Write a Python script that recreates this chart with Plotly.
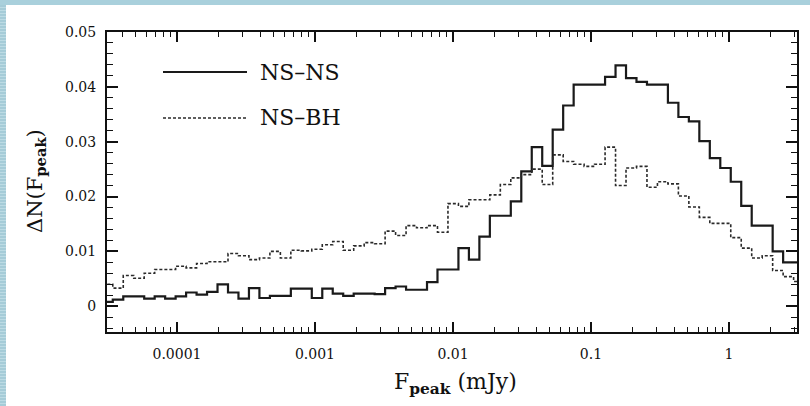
import numpy as np
import plotly.graph_objects as go

# ---------------- data ----------------
# histogram bins in log10(F_peak / mJy)
log_edge_start = -4.541
bin_dex = 0.0759

ns_ns = [0.0008, 0.0012, 0.0018, 0.0018, 0.0014, 0.0018, 0.0014, 0.0018, 0.0025, 0.0021,
         0.0026, 0.0040, 0.0025, 0.0014, 0.0033, 0.0015, 0.0019, 0.0019, 0.0032, 0.0032,
         0.0015, 0.0032, 0.0023, 0.0019, 0.0023, 0.0023, 0.0022, 0.0033, 0.0036, 0.0030,
         0.0030, 0.0044, 0.0067, 0.0067, 0.0106, 0.0085, 0.0127, 0.0165, 0.0165, 0.0191,
         0.0246, 0.0290, 0.0256, 0.0322, 0.0366, 0.0404, 0.0404, 0.0404, 0.0418, 0.0439,
         0.0416, 0.0409, 0.0404, 0.0404, 0.0371, 0.0345, 0.0337, 0.0301, 0.0270, 0.0252,
         0.0227, 0.0183, 0.0147, 0.0147, 0.0100, 0.0080, 0.0080]

ns_bh = [0.0040, 0.0033, 0.0056, 0.0051, 0.0060, 0.0067, 0.0067, 0.0073, 0.0070, 0.0078,
         0.0081, 0.0081, 0.0096, 0.0092, 0.0085, 0.0088, 0.0100, 0.0088, 0.0102, 0.0101,
         0.0104, 0.0112, 0.0118, 0.0102, 0.0110, 0.0116, 0.0114, 0.0137, 0.0129, 0.0147,
         0.0143, 0.0147, 0.0135, 0.0187, 0.0182, 0.0194, 0.0194, 0.0203, 0.0222, 0.0234,
         0.0240, 0.0250, 0.0222, 0.0276, 0.0264, 0.0259, 0.0255, 0.0259, 0.0290, 0.0220,
         0.0252, 0.0255, 0.0217, 0.0227, 0.0223, 0.0201, 0.0181, 0.0162, 0.0151, 0.0151,
         0.0125, 0.0106, 0.0088, 0.0092, 0.0065, 0.0054, 0.0045]

series_names = ["NS–NS", "NS–BH"]
x_tick_vals = [1e-4, 1e-3, 1e-2, 1e-1, 1]
x_tick_text = ["0.0001", "0.001", "0.01", "0.1", "1"]
y_tick_vals = [0, 0.01, 0.02, 0.03, 0.04, 0.05]
y_tick_text = ["0", "0.01", "0.02", "0.03", "0.04", "0.05"]

# ---------------- figure ----------------
n_bins = len(ns_ns)
edges = 10 ** (log_edge_start + bin_dex * np.arange(n_bins + 1))


def step(vals):
    return list(vals) + [vals[-1]]


W, H = 810, 406
L, R, T, B = 107, 13, 32, 74
pw, ph = W - L - R, H - T - B


def px(xp):
    return (xp - L) / pw


def py(yp):
    return (H - B - yp) / ph


fig = go.Figure()
fig.add_trace(go.Scatter(x=edges, y=step(ns_ns), mode="lines", line_shape="hv",
                         line=dict(color="#1a1a1a", width=2.2), name=series_names[0],
                         showlegend=False))
fig.add_trace(go.Scatter(x=edges, y=step(ns_bh), mode="lines", line_shape="hv",
                         line=dict(color="#2a2a2a", width=1.6, dash="3px,2px"),
                         name=series_names[1], showlegend=False))

font_family = "DejaVu Serif"
minor_vals = [m * 10.0 ** d for d in range(-5, 1) for m in range(2, 10)]

fig.update_xaxes(type="log", range=[-4.507, 0.493],
                 tickmode="array", tickvals=x_tick_vals, ticktext=x_tick_text,
                 ticks="inside", ticklen=10, tickwidth=1.5, tickcolor="#111",
                 minor=dict(ticks="inside", ticklen=5, tickwidth=1.2, tickcolor="#111",
                            tickmode="array", tickvals=minor_vals, showgrid=False),
                 showline=True, linecolor="#111", linewidth=2, mirror="ticks",
                 showgrid=False, zeroline=False, ticklabelstandoff=8,
                 tickfont=dict(family=font_family, size=14, color="#111"))
fig.update_yaxes(range=[-0.0047, 0.05],
                 tickmode="array", tickvals=y_tick_vals, ticktext=y_tick_text,
                 ticks="inside", ticklen=11, tickwidth=1.5, tickcolor="#111",
                 minor=dict(ticks="inside", ticklen=6, tickwidth=1.2, tickcolor="#111",
                            dtick=0.002, showgrid=False),
                 showline=True, linecolor="#111", linewidth=2, mirror="ticks",
                 showgrid=False, zeroline=False, ticklabelstandoff=6,
                 tickfont=dict(family=font_family, size=14, color="#111"))

shapes = []
# decorative striped border (left and top)
shapes.append(dict(type="rect", xref="paper", yref="paper", x0=px(0), x1=px(6),
                   y0=py(H), y1=py(0), fillcolor="#bcdbe4", line=dict(width=0), layer="below"))
shapes.append(dict(type="rect", xref="paper", yref="paper", x0=px(0), x1=px(W),
                   y0=py(5), y1=py(0), fillcolor="#a9d0dc", line=dict(width=0), layer="below"))
for yy in range(6, H, 3):
    shapes.append(dict(type="line", xref="paper", yref="paper", x0=px(0), x1=px(6),
                       y0=py(yy), y1=py(yy), line=dict(color="#8fbccb", width=1), layer="below"))

# legend samples
shapes.append(dict(type="line", xref="paper", yref="paper", x0=px(163), x1=px(247),
                   y0=py(72), y1=py(72), line=dict(color="#1a1a1a", width=2.2)))
shapes.append(dict(type="line", xref="paper", yref="paper", x0=px(163), x1=px(247),
                   y0=py(118), y1=py(118), line=dict(color="#2a2a2a", width=1.6, dash="3px,2px")))

annotations = [
    dict(text=series_names[0], xref="paper", yref="paper", x=px(258), y=py(72),
         xanchor="left", yanchor="middle", showarrow=False,
         font=dict(family=font_family, size=22, color="#111")),
    dict(text=series_names[1], xref="paper", yref="paper", x=px(258), y=py(118),
         xanchor="left", yanchor="middle", showarrow=False,
         font=dict(family=font_family, size=22, color="#111")),
    dict(text="F<sub><b>peak</b></sub> (mJy)", xref="paper", yref="paper",
         x=px(455), y=py(383), xanchor="center", yanchor="middle", showarrow=False,
         font=dict(family=font_family, size=22, color="#111")),
    dict(text="ΔN(F<sub><b>peak</b></sub>)", xref="paper", yref="paper",
         x=px(36), y=py(181), xanchor="center", yanchor="middle", showarrow=False,
         textangle=-90, font=dict(family=font_family, size=21, color="#111")),
]

fig.update_layout(width=W, height=H, margin=dict(l=L, r=R, t=T, b=B),
                  paper_bgcolor="white", plot_bgcolor="white",
                  shapes=shapes, annotations=annotations, showlegend=False)

fig.write_html("out.html")
